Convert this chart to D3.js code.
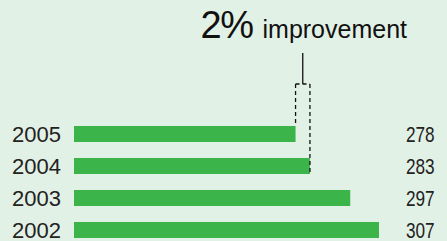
<!DOCTYPE html>
<html>
<head>
<meta charset="utf-8">
<script src="https://cdn.jsdelivr.net/npm/d3@7"></script>
<style>
  html, body { margin: 0; padding: 0; background: #e2f1e6; }
  svg { display: block; }
</style>
</head>
<body>
<svg id="chart"></svg>
<script>
// data
var years = ["2005", "2004", "2003", "2002"];
var counts = [278, 283, 297, 307];
var headline = ["2%", "improvement"];

var width = 447;
var height = 241;

var svg = d3.select("#chart")
    .attr("width", width)
    .attr("height", height);

svg.append("rect")
    .attr("width", width)
    .attr("height", height)
    .attr("fill", "#e2f1e6");

// bars don't start at zero in the original
var x = d3.scaleLinear()
    .domain([201, 307])
    .range([74, 379]);

var y = d3.scaleBand()
    .domain(years)
    .range([118, 246])
    .paddingInner(0.5)
    .paddingOuter(0.25);

var rows = years.map(function(yr, i){ return {year: yr, value: counts[i]}; });

svg.selectAll(".bar")
    .data(rows)
    .enter()
    .append("rect")
        .classed("bar", true)
        .attr("x", x(201))
        .attr("y", d => y(d.year))
        .attr("width", d => x(d.value) - x(201))
        .attr("height", y.bandwidth())
        .attr("fill", "#3bb54a");

// year labels
svg.selectAll(".yearLabel")
    .data(rows)
    .enter()
    .append("text")
        .classed("yearLabel", true)
        .attr("x", 12)
        .attr("y", d => y(d.year) + y.bandwidth() - 0.5)
        .attr("font-family", "'Liberation Sans', Arial, sans-serif")
        .attr("font-size", 22)
        .attr("fill", "#222")
        .text(d => d.year);

// value labels (narrow in the original, so squeeze them)
svg.selectAll(".valueLabel")
    .data(rows)
    .enter()
    .append("text")
        .classed("valueLabel", true)
        .attr("transform", d => `translate(406, ${y(d.year) + y.bandwidth() - 0.5}) scale(0.8,1)`)
        .attr("font-family", "'Liberation Sans', Arial, sans-serif")
        .attr("font-size", 21.5)
        .attr("fill", "#222")
        .text(d => d.value);

// bracket between 2005 and 2004
var xa = x(counts[0]), xb = x(counts[1]);
var topY = 84;
var dash = svg.append("g")
    .attr("stroke", "#111")
    .attr("stroke-width", 1.3)
    .attr("stroke-dasharray", "4,3")
    .attr("fill", "none");

dash.append("line")
    .attr("x1", xa).attr("x2", xa)
    .attr("y1", topY).attr("y2", y(years[0]));
dash.append("line")
    .attr("x1", xb).attr("x2", xb)
    .attr("y1", topY).attr("y2", y(years[1]) + y.bandwidth());
dash.append("line")
    .attr("x1", xa).attr("x2", xb)
    .attr("y1", topY).attr("y2", topY);

svg.append("line")
    .attr("x1", (xa + xb) / 2).attr("x2", (xa + xb) / 2)
    .attr("y1", 53).attr("y2", topY)
    .attr("stroke", "#111")
    .attr("stroke-width", 1.3);

// headline
var head = svg.append("text")
    .attr("x", 407)
    .attr("y", 38)
    .attr("text-anchor", "end")
    .attr("font-family", "'Liberation Sans', Arial, sans-serif")
    .attr("fill", "#111");
head.append("tspan")
    .attr("font-size", 38)
    .attr("letter-spacing", -1.5)
    .text(headline[0]);
head.append("tspan")
    .attr("font-size", 25)
    .attr("dx", 10)
    .text(headline[1]);
</script>
</body>
</html>
